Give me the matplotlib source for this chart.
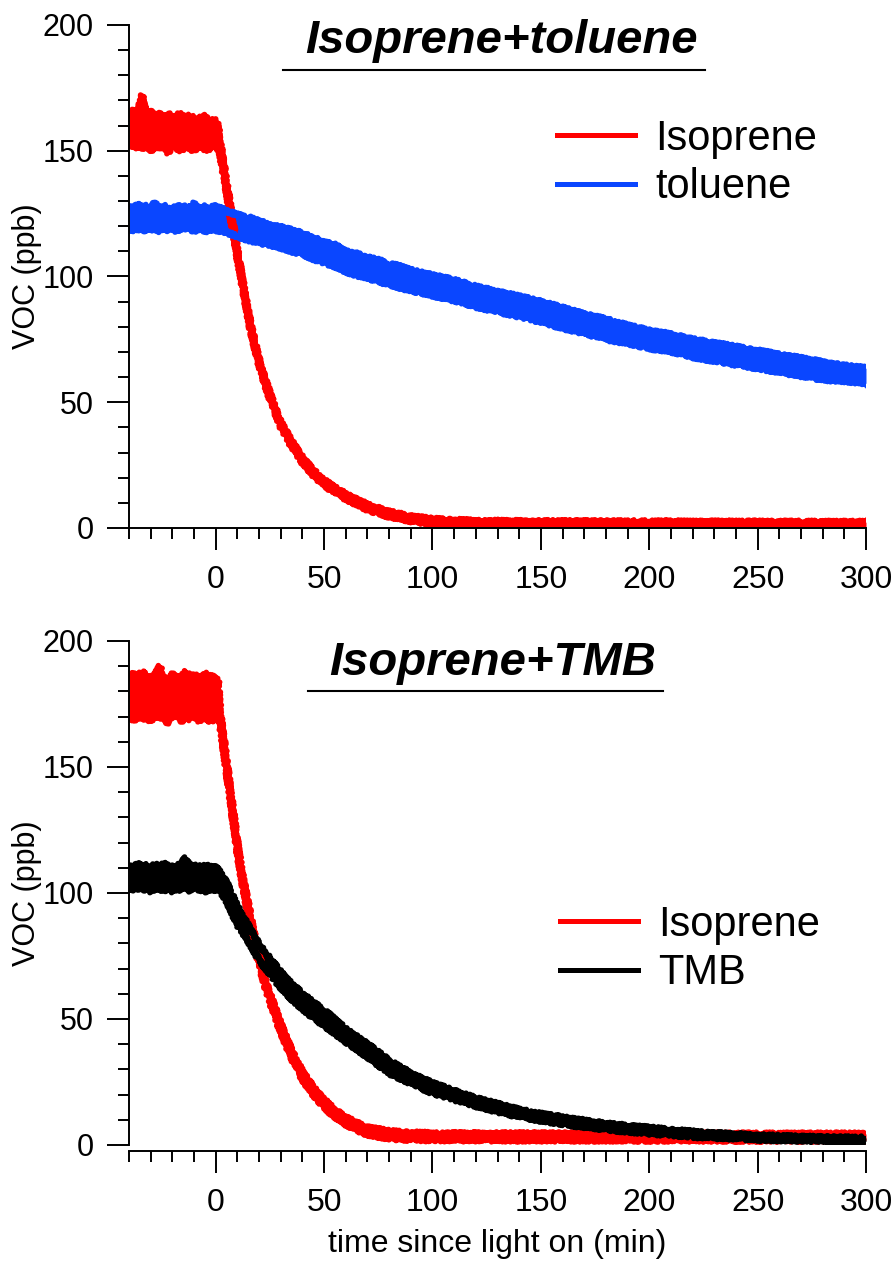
import matplotlib
matplotlib.use("Agg")
import matplotlib.pyplot as plt
from matplotlib.ticker import MultipleLocator

plt.rcParams['font.family'] = ['Liberation Sans', 'DejaVu Sans']

# DATA ###############################################################
# envelope (upper / lower edge) of the noisy traces
PRE = [-40, -38, -36, -34, -32, -30, -28, -26, -24, -22, -20, -18, -16, -14, -12, -10, -8, -6, -4, -2, 0]

# panel 1: isoprene + toluene
t_iso_a = PRE + [1, 2, 3, 4, 6, 8, 10, 12, 14, 16, 18, 20, 23, 26, 30, 35, 40, 45, 50, 55, 60,
                 70, 80, 90, 100, 120, 150, 200, 250, 300]
hi_iso_a = [164, 166, 165, 172, 165, 166, 164, 165, 163, 165, 162, 164, 165, 162, 164, 163, 162, 164, 163, 162, 162,
            160, 153, 148, 142.5, 131.5, 120.5, 110, 100, 90.5, 81, 74, 67, 58.5, 51, 42, 34.5, 28, 23, 19, 16, 13.5,
            9.3, 6.5, 4.6, 3.5, 2.8, 2.6, 2.5, 2.4, 2.3]
lo_iso_a = [153, 151, 152, 151, 152, 150, 152, 151, 153, 149, 152, 151, 150, 152, 151, 150, 152, 151, 150, 152, 152,
            151, 149, 144, 139.5, 128.5, 118.5, 108, 98, 88.5, 79, 72, 65, 56.5, 49, 40, 32.5, 26, 21, 17, 14, 11.5,
            7.3, 4.5, 2.6, 1.5, 0.8, 0.6, 0.5, 0.4, 0.3]

t_tol = PRE + [5, 10, 15, 20, 25, 30, 35, 40, 45, 50, 55, 60, 65, 70, 75, 80, 85, 90, 95, 100,
               110, 120, 130, 140, 150, 160, 170, 180, 190, 200, 210, 220, 230, 240, 250, 260, 270, 280, 290, 300]
hi_tol = [128, 127, 129, 127.5, 128, 127, 129.5, 127, 128, 127.5, 127, 128.5, 127, 128, 127.5, 129, 127, 128, 127, 127.5, 128,
          126, 124.5, 123.5, 122, 120.5, 119.5, 118.5, 117, 115.5, 113.5, 112.5, 110, 109, 107.5, 106.5, 105, 104, 102.5,
          101.5, 100.5, 98.5, 96, 94, 92, 90, 87.5, 85, 83, 80.5, 78.5, 77, 75, 73.5, 72, 70.5, 69, 67.5, 66, 64.5, 63.5]
lo_tol = [119, 118, 119.5, 118, 119, 118.5, 119, 118, 119.5, 118.5, 119, 118, 119, 118.5, 119, 118, 119, 118.5, 118, 119, 118.5,
          117.5, 116, 114.5, 113.5, 112.5, 111.5, 110, 109, 107, 105.5, 104, 102, 100.5, 99.5, 98, 97, 95.5, 94.5,
          93.5, 92.5, 90.5, 88, 86, 84, 82, 79.5, 77.5, 75, 73.5, 71.5, 70, 68, 66.5, 65, 63.5, 62, 60.5, 59, 58.5, 57.5]

# panel 2: isoprene + TMB
t_iso_b = PRE + [1, 2, 3, 4, 6, 8, 10, 12, 14, 16, 18, 20, 23, 26, 30, 35, 40, 45, 50, 55, 60,
                 65, 70, 80, 90, 100, 150, 200, 250, 300]
hi_iso_b = [185, 187, 186, 188, 186, 185, 187, 190, 186, 184, 187, 186, 185, 188, 186, 187, 185, 186, 187, 186, 185,
            184, 172, 165, 159, 145.5, 132.5, 119.5, 108.5, 99.5, 91, 82.5, 75, 65, 57.5, 48, 37.5, 29, 23, 18, 14, 11,
            8.8, 7, 5.4, 4.9, 4.6, 4.5, 4.5, 4.4, 4.4]
lo_iso_b = [170, 168, 171, 169, 170, 168, 171, 169, 170, 167, 170, 171, 168, 170, 169, 171, 168, 170, 169, 168, 170,
            169, 168, 161, 155, 142.5, 129.5, 116.5, 105.5, 96.5, 88, 79.5, 72, 62, 54.5, 45, 34.5, 26, 20, 15, 11, 8,
            5.8, 4.2, 2.6, 2.1, 2, 1.9, 1.9, 1.8, 1.8]

t_tmb = PRE + [2, 5, 10, 15, 20, 25, 30, 35, 40, 45, 50, 60, 70, 80, 90, 100, 110, 120, 130, 140, 150,
               160, 170, 180, 190, 200, 210, 220, 230, 240, 250, 260, 270, 280, 290, 300]
hi_tmb = [111, 110, 112, 110.5, 111, 110, 111.5, 110, 112, 110.5, 111, 110, 112, 114, 111, 110.5, 111, 110, 111.5, 110, 110.5,
          108, 104, 94.5, 87, 79.5, 74, 68.5, 64, 60, 56.5, 53.5, 46, 40, 33.5, 28.5, 24.5, 21.5, 18.5, 16.3, 14, 12.3,
          11, 9.7, 8.5, 7.6, 6.8, 6, 5.3, 4.7, 4.2, 3.8, 3.5, 3.2, 3, 2.9, 2.8]
lo_tmb = [102, 101, 102.5, 101, 102, 100.5, 102, 101.5, 101, 102, 100.5, 102, 101, 102, 101, 102.5, 101, 101.5, 100.5, 102, 101,
          101, 97, 87.5, 81, 73.5, 68, 62.5, 58, 54, 50.5, 47.5, 41, 35, 28.5, 24.5, 20.5, 18.1, 15.5, 13.3, 11.2, 9.7,
          8.4, 7.1, 6.1, 5.4, 4.6, 4, 3.3, 2.9, 2.6, 2.2, 2, 1.8, 1.6, 1.5, 1.4]

RED = '#ff0000'
BLUE = '#0a46ff'
BLACK = '#000000'

FS = 22
EDGE_LW = 4


def trace(ax, t, lo, hi, color, label):
    ax.fill_between(t, lo, hi, color=color, lw=0)
    for edge in (hi, lo):
        line, = ax.plot(t, edge, color=color, lw=EDGE_LW, solid_joinstyle='round')
        # rough edge like the measured noise
        line.set_sketch_params(scale=1.8, length=3, randomness=2)
    # clean proxy for the legend
    ax.plot([], [], color=color, lw=3.6, label=label)


def style_axes(ax):
    ax.set_xlim(-40, 300)
    ax.set_ylim(0, 200)
    ax.spines['top'].set_visible(False)
    ax.spines['right'].set_visible(False)
    for s in ['left', 'bottom']:
        ax.spines[s].set_linewidth(1.4)
    ax.xaxis.set_major_locator(MultipleLocator(50))
    ax.xaxis.set_minor_locator(MultipleLocator(10))
    ax.yaxis.set_major_locator(MultipleLocator(50))
    ax.yaxis.set_minor_locator(MultipleLocator(10))
    ax.tick_params(which='major', direction='out', length=15.5, width=1.4, labelsize=FS)
    ax.tick_params(which='minor', direction='out', length=8, width=1.4)
    ax.tick_params(axis='y', which='major', pad=10)
    ax.tick_params(axis='x', which='major', pad=11, labelsize=23)
    ax.set_ylabel('VOC (ppb)', fontsize=FS)
    ax.yaxis.set_label_coords(-0.118, 0.5)


def title(ax, text, x, y, ux0, ux1, uy):
    ax.text(x, y, text, transform=ax.transAxes, fontsize=34, fontweight='bold',
            style='italic', ha='center', va='baseline')
    ax.plot([ux0, ux1], [uy, uy], transform=ax.transAxes, color='k', lw=1.5, clip_on=False)


fig = plt.figure(figsize=(8.96, 12.67), dpi=100)
ax1 = fig.add_axes([0.144, 0.5833, 0.8225, 0.397])
ax2 = fig.add_axes([0.144, 0.0963, 0.8225, 0.3978])

# TOP PANEL ##########################################################
trace(ax1, t_iso_a, lo_iso_a, hi_iso_a, RED, 'Isoprene')
trace(ax1, t_tol, lo_tol, hi_tol, BLUE, 'toluene')
style_axes(ax1)
title(ax1, 'Isoprene+toluene', 0.505, 0.944, 0.209, 0.7815, 0.9105)
ax1.legend(loc='center left', bbox_to_anchor=(0.5807, 0.7256), fontsize=30, frameon=False,
           handlelength=1.87, handletextpad=0.48, labelspacing=0.2, borderpad=0, borderaxespad=0)

# BOTTOM PANEL #######################################################
trace(ax2, t_iso_b, lo_iso_b, hi_iso_b, RED, 'Isoprene')
trace(ax2, t_tmb, lo_tmb, hi_tmb, BLACK, 'TMB')
style_axes(ax2)
ax2.spines['bottom'].set_position(('outward', 4.3))
title(ax2, 'Isoprene+TMB', 0.494, 0.9325, 0.243, 0.7246, 0.901)
ax2.legend(loc='center left', bbox_to_anchor=(0.585, 0.389), fontsize=30, frameon=False,
           handlelength=1.87, handletextpad=0.48, labelspacing=0.2, borderpad=0, borderaxespad=0)
ax2.set_xlabel('time since light on (min)', fontsize=23)
ax2.xaxis.set_label_coords(0.5, -0.167)

fig.savefig('out.png', dpi=100)
